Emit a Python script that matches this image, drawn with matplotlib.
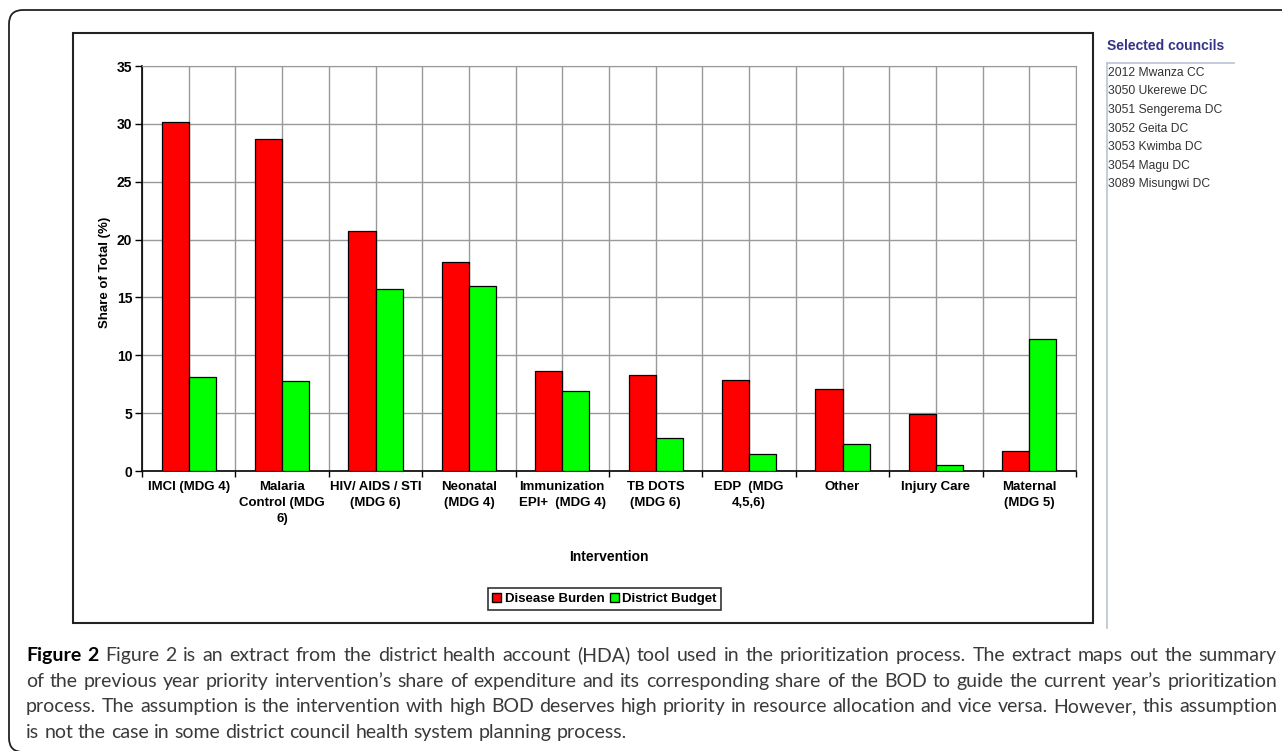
import matplotlib.pyplot as plt
import numpy as np
from matplotlib.patches import Rectangle, FancyBboxPatch, Patch

categories = ['IMCI (MDG 4)', 'Malaria\nControl (MDG\n6)', 'HIV/ AIDS / STI\n(MDG 6)',
              'Neonatal\n(MDG 4)', 'Immunization\nEPI+  (MDG 4)', 'TB DOTS\n(MDG 6)',
              'EDP  (MDG\n4,5,6)', 'Other', 'Injury Care', 'Maternal\n(MDG 5)']
disease_burden = [30.2, 28.7, 20.7, 18.1, 8.6, 8.3, 7.9, 7.1, 4.9, 1.7]
district_budget = [8.1, 7.8, 15.7, 16.0, 6.9, 2.85, 1.5, 2.3, 0.5, 11.4]
y_ticks = [0, 5, 10, 15, 20, 25, 30, 35]

councils = ['2012 Mwanza CC', '3050 Ukerewe DC', '3051 Sengerema DC', '3052 Geita DC',
            '3053 Kwimba DC', '3054 Magu DC', '3089 Misungwi DC']

caption = [
    "Figure 2 Figure 2 is an extract from the district health account (HDA) tool used in the prioritization process. The extract maps out the summary",
    "of the previous year priority intervention\u2019s share of expenditure and its corresponding share of the BOD to guide the current year\u2019s prioritization",
    "process. The assumption is the intervention with high BOD deserves high priority in resource allocation and vice versa. However, this assumption",
    "is not the case in some district council health system planning process.",
]

W, H = 1282, 751
fig = plt.figure(figsize=(W / 100, H / 100), dpi=100)

# overlay in pixel coords (y down)
bg = fig.add_axes([0, 0, 1, 1], zorder=0)
bg.set_xlim(0, W)
bg.set_ylim(H, 0)
bg.axis('off')

def fx(px):
    return px / W

def fy(py):
    return 1 - py / H

# outer rounded frame and chart frame
bg.add_patch(FancyBboxPatch((9, 10), 1320, 742, boxstyle='round,pad=0,rounding_size=14',
                            fill=False, ec='#222222', lw=1.3, clip_on=False))
bg.add_patch(Rectangle((73, 33), 1020, 590, fill=False, ec='#222222', lw=1.5))

# chart
ax = fig.add_axes([fx(142), fy(471), (1076 - 142) / W, (471 - 66) / H], zorder=2)
n = len(categories)
x = np.arange(n)
bw = 0.29
ax.bar(x - bw, disease_burden, width=bw, align='edge', color='#ff0000', edgecolor='black', lw=0.9, zorder=3, label='Disease Burden')
ax.bar(x, district_budget, width=bw, align='edge', color='#00ff00', edgecolor='black', lw=0.9, zorder=3, label='District Budget')

ax.set_xlim(-0.5, n - 0.5)
ax.set_ylim(0, 35)
ax.set_yticks(y_ticks)
ax.set_xticks(np.arange(-0.5, n, 1))
ax.set_xticklabels([])
ax.set_xticks(x, minor=True)
ax.set_xticklabels(categories, minor=True, fontsize=9.5, fontweight='bold',
                   family='Liberation Sans', linespacing=1.45, va='top', ha='center')
ax.tick_params(axis='x', which='minor', length=0, pad=7)
ax.tick_params(axis='x', which='major', length=4, width=1, direction='out')
ax.tick_params(axis='y', length=5, width=1, pad=2)
for lab in ax.get_yticklabels():
    lab.set_fontsize(10)
    lab.set_fontweight('bold')
    lab.set_family('Liberation Sans')

ax.grid(axis='x', which='both', color='#999999', lw=1, zorder=0)
ax.grid(axis='y', which='major', color='#999999', lw=1, zorder=0)
ax.set_axisbelow(True)
for s in ['top', 'right']:
    ax.spines[s].set_color('#999999')
for s in ['left', 'bottom']:
    ax.spines[s].set_color('black')
    ax.spines[s].set_linewidth(1.2)

fig.text(fx(609), fy(557), 'Intervention', ha='center', va='center', fontsize=10,
         fontweight='bold', family='Liberation Sans')
fig.text(fx(105), fy(272), 'Share of Total (%)', ha='center', va='center', rotation=90,
         fontsize=9.5, fontweight='bold', family='Liberation Sans')

handles = [Patch(facecolor='#ff0000', edgecolor='black'), Patch(facecolor='#00ff00', edgecolor='black')]
leg = fig.legend(handles, ['Disease Burden', 'District Budget'], loc='center',
                 bbox_to_anchor=(fx(604.5), fy(599)), ncol=2, frameon=True, fancybox=False,
                 handlelength=0.7, handleheight=0.7, handletextpad=0.25, columnspacing=0.4,
                 borderpad=0.35, prop={'family': 'Liberation Sans', 'weight': 'bold', 'size': 9.5})
leg.get_frame().set_edgecolor('black')
leg.get_frame().set_linewidth(1.2)

# right panel
bg.text(1107, 46, 'Selected councils', ha='left', va='center', fontsize=10, fontweight='bold',
        color='#333388', family='Liberation Sans')
bg.plot([1107, 1234], [63, 63], color='#b8c4d4', lw=1.2)
bg.plot([1107, 1107], [63, 628], color='#b8c4d4', lw=1.2)
for i, c in enumerate(councils):
    bg.text(1108, 73 + i * 18.5, c, ha='left', va='center', fontsize=8.7, color='#333333',
            family='Liberation Sans')

# caption, justified
renderer = fig.canvas.get_renderer()
left, right = 26, 1277
size = 14
cap_font = 'Lato'

def measure(s, size, weight):
    t = bg.text(0, 0, s, fontsize=size, fontweight=weight, family=cap_font)
    w = t.get_window_extent(renderer).width
    t.remove()
    return w

def line_words(i, line):
    words = line.split(' ')
    weights = ['normal'] * len(words)
    if i == 0:
        weights[0] = 'bold'
        weights[1] = 'bold'
    return words, weights

space = measure('a a', size, 'normal') - measure('aa', size, 'normal')
natural = []
for i, line in enumerate(caption):
    words, weights = line_words(i, line)
    natural.append(sum(measure(w, size, wt) for w, wt in zip(words, weights)) + space * (len(words) - 1))
if max(natural) > right - left:
    size = size * (right - left) / max(natural) * 0.995
    space = measure('a a', size, 'normal') - measure('aa', size, 'normal')

for i, line in enumerate(caption):
    words, weights = line_words(i, line)
    widths = [measure(w, size, wt) for w, wt in zip(words, weights)]
    if i < len(caption) - 1:
        gap = (right - left - sum(widths)) / (len(words) - 1)
    else:
        gap = space
    xpos = left
    for w, wt, wd in zip(words, weights, widths):
        bg.text(xpos, 661 + i * 25.6, w, ha='left', va='baseline', fontsize=size, fontweight=wt,
                family=cap_font, color='#000000' if wt == 'bold' else '#3a3a3a')
        xpos += wd + gap

fig.savefig('out.png', dpi=100)
